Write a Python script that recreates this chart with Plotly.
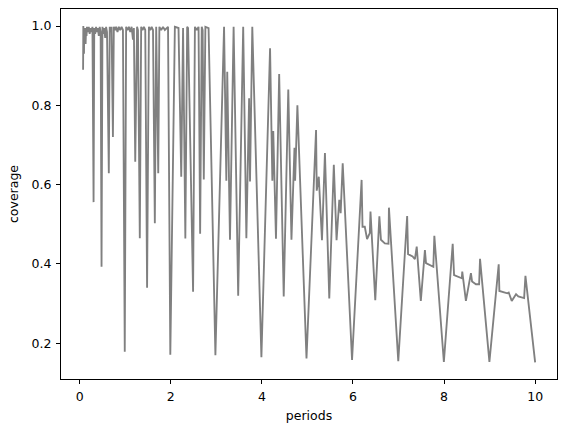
import plotly.graph_objects as go

periods = [
    0.075, 0.08, 0.095, 0.10, 0.115, 0.12, 0.13, 0.14, 0.15, 0.16, 0.18, 0.20, 0.22, 0.24, 0.26, 0.28,
    0.305, 0.32, 0.34, 0.36, 0.38, 0.40, 0.42, 0.44, 0.46,
    0.48, 0.50, 0.52, 0.54, 0.56, 0.58, 0.60,
    0.64, 0.66, 0.68, 0.70,
    0.73, 0.75, 0.78, 0.80, 0.83, 0.86, 0.89, 0.92, 0.95,
    0.99, 1.02, 1.05, 1.08, 1.11, 1.14, 1.17, 1.19,
    1.22, 1.26, 1.28,
    1.32, 1.35, 1.38, 1.41, 1.44,
    1.48, 1.52, 1.55, 1.58, 1.61,
    1.65, 1.68,
    1.725, 1.75, 1.79, 1.83, 1.87, 1.94,
    1.99, 2.09, 2.17, 2.23, 2.27, 2.32, 2.36, 2.38,
    2.49, 2.53, 2.57, 2.61, 2.645, 2.68, 2.70, 2.725, 2.76, 2.83,
    2.98, 3.17, 3.22, 3.24, 3.30, 3.38, 3.48, 3.59, 3.66, 3.72, 3.74, 3.79,
    3.99, 4.18, 4.23, 4.25, 4.31, 4.38, 4.48, 4.58, 4.65, 4.716, 4.73, 4.78,
    4.98, 5.19, 5.205, 5.25, 5.27, 5.32, 5.385, 5.48, 5.58, 5.64, 5.70, 5.73, 5.775,
    5.98, 6.19, 6.21, 6.26, 6.31, 6.37, 6.385, 6.49, 6.58, 6.615, 6.70, 6.78, 6.79,
    6.995, 7.19, 7.21, 7.31, 7.36, 7.40, 7.49, 7.58, 7.604, 7.69, 7.765, 7.787,
    7.996, 8.19, 8.22, 8.39, 8.40, 8.48, 8.59, 8.615, 8.70, 8.77, 8.79,
    8.996, 9.20, 9.215, 9.39, 9.42, 9.486, 9.58, 9.63, 9.758, 9.787, 10.0,
]

coverage = [
    0.89, 1.0, 0.93, 0.995, 0.97, 0.995, 0.955, 0.99, 0.975, 0.998, 0.985, 0.998, 0.98, 0.995, 0.985, 0.998,
    0.556, 0.995, 0.98, 0.998, 0.985, 0.995, 0.975, 0.998, 0.985,
    0.393, 0.998, 0.98, 0.995, 0.97, 0.998, 0.985,
    0.629, 0.998, 0.985, 0.998,
    0.72, 0.998, 0.99, 0.998, 0.985, 0.998, 0.99, 0.998, 0.99,
    0.179, 0.998, 0.99, 0.998, 0.985, 0.998, 0.966, 0.995,
    0.658, 0.998, 0.99,
    0.465, 0.998, 0.99, 0.998, 0.99,
    0.34, 0.998, 0.99, 0.998, 0.99,
    0.503, 0.998,
    0.629, 0.998, 0.99, 0.998, 0.99, 0.998,
    0.171, 0.998, 0.995, 0.62, 0.995, 0.464, 0.998, 0.995,
    0.33, 0.998, 0.99, 0.998, 0.476, 0.998, 0.99, 0.613, 0.998, 0.995,
    0.17, 0.998, 0.61, 0.885, 0.461, 0.998, 0.32, 0.998, 0.465, 0.818, 0.608, 0.998,
    0.165, 0.944, 0.61, 0.735, 0.464, 0.879, 0.318, 0.84, 0.461, 0.693, 0.61, 0.80,
    0.162, 0.738, 0.585, 0.62, 0.579, 0.46, 0.68, 0.313, 0.65, 0.46, 0.562, 0.528, 0.654,
    0.158, 0.612, 0.494, 0.494, 0.463, 0.478, 0.532, 0.309, 0.52, 0.461, 0.452, 0.451, 0.542,
    0.155, 0.521, 0.425, 0.419, 0.412, 0.444, 0.307, 0.435, 0.402, 0.398, 0.393, 0.471,
    0.153, 0.451, 0.372, 0.364, 0.381, 0.307, 0.377, 0.356, 0.349, 0.349, 0.413,
    0.153, 0.399, 0.332, 0.326, 0.328, 0.307, 0.324, 0.318, 0.314, 0.37, 0.152,
]

x_ticks = [0, 2, 4, 6, 8, 10]
y_ticks = [0.2, 0.4, 0.6, 0.8, 1.0]

fig = go.Figure()
fig.add_trace(go.Scatter(
    x=periods, y=coverage, mode="lines",
    line=dict(color="#808080", width=1.85),
    showlegend=False,
))

font = dict(family="DejaVu Sans", size=12.5, color="#000000")
axis_common = dict(
    showgrid=False, zeroline=False, showline=True, linecolor="#000000", linewidth=1,
    mirror=True, ticks="outside", ticklen=4, tickwidth=1, tickcolor="#000000",
    tickfont=font, ticklabelstandoff=2,
)
fig.update_layout(
    width=567, height=432,
    margin=dict(l=61, r=10, t=9, b=53),
    paper_bgcolor="white", plot_bgcolor="white",
    font=font,
    xaxis=dict(range=[-0.41, 10.48], tickvals=x_ticks, ticktext=[str(v) for v in x_ticks],
               title=dict(text="periods", font=font, standoff=8), **axis_common),
    yaxis=dict(range=[0.11, 1.043], tickvals=y_ticks, ticktext=[f"{v:.1f}" for v in y_ticks],
               title=dict(text="coverage", font=font, standoff=10), **axis_common),
)
fig.write_html("out.html")
